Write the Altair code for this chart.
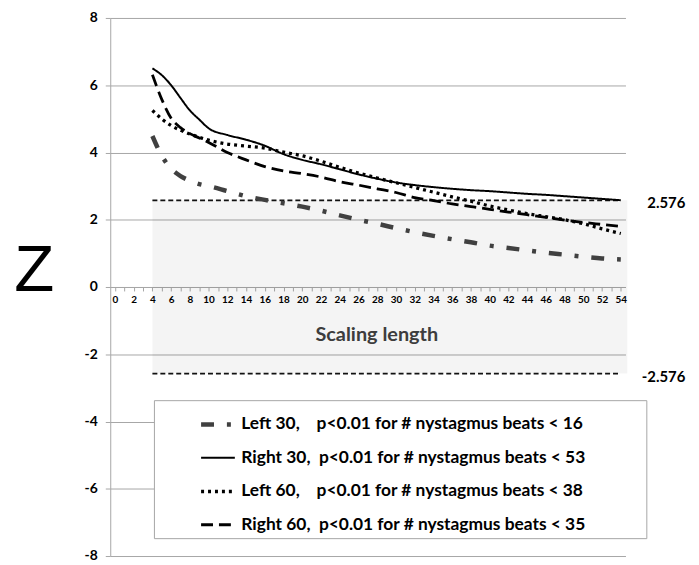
import altair as alt
import pandas as pd

# ---- data ----
x_vals = [4, 5, 6, 7, 8, 9, 10, 12, 14, 16, 18, 20, 22, 24, 26, 28, 30, 32, 34,
          36, 38, 40, 42, 44, 46, 48, 50, 52, 54]
left30 = [4.49, 3.9, 3.52, 3.3, 3.16, 3.06, 3.0, 2.85, 2.7, 2.59, 2.49, 2.39, 2.27,
          2.13, 2.0, 1.88, 1.75, 1.63, 1.52, 1.42, 1.33, 1.23, 1.16, 1.09, 1.02,
          0.96, 0.9, 0.85, 0.82]
right30 = [6.5, 6.3, 6.0, 5.62, 5.25, 4.98, 4.72, 4.52, 4.38, 4.2, 3.95, 3.78, 3.65,
           3.5, 3.35, 3.22, 3.11, 3.03, 2.97, 2.92, 2.88, 2.85, 2.81, 2.77, 2.74,
           2.7, 2.66, 2.62, 2.58]
left60 = [5.25, 5.0, 4.8, 4.66, 4.55, 4.45, 4.37, 4.25, 4.19, 4.13, 4.01, 3.9, 3.74,
          3.56, 3.39, 3.24, 3.1, 2.96, 2.82, 2.68, 2.55, 2.41, 2.29, 2.18, 2.09,
          2.0, 1.88, 1.73, 1.59]
right60 = [6.31, 5.58, 5.02, 4.74, 4.56, 4.43, 4.3, 4.0, 3.78, 3.58, 3.45, 3.37, 3.27,
           3.13, 3.03, 2.92, 2.81, 2.66, 2.57, 2.47, 2.39, 2.31, 2.23, 2.15, 2.07,
           1.99, 1.92, 1.86, 1.8]

NB = "\u00a0"
series_names = [
    "Left 30," + NB * 4 + "p<0.01 for # nystagmus beats < 16",
    "Right 30," + NB * 2 + "p<0.01 for # nystagmus beats < 53",
    "Left 60," + NB * 4 + "p<0.01 for # nystagmus beats < 38",
    "Right 60," + NB * 2 + "p<0.01 for # nystagmus beats < 35",
]
series_values = [left30, right30, left60, right60]

thresholds = [2.576, -2.576]
band_x = [4, 54.7]
line_x = [4, 54]

x_ticks = list(range(0, 55))
y_ticks = list(range(-8, 9, 2))

rows = []
for name, vals in zip(series_names, series_values):
    for xv, zv in zip(x_vals, vals):
        rows.append({"series": name, "x": xv, "z": zv})
df = pd.DataFrame(rows)

band_df = pd.DataFrame({"x0": [band_x[0]], "x1": [band_x[1]],
                        "lo": [thresholds[1]], "hi": [thresholds[0]]})
thr_df = pd.DataFrame({"t": thresholds,
                       "lab": [f"{t:.3f}" for t in thresholds],
                       "xa": [line_x[0]] * 2, "xb": [line_x[1]] * 2})

GRAY = "#a6a6a6"
xscale = alt.Scale(domain=[-0.5, 54.5], nice=False, zero=False)
yscale = alt.Scale(domain=[-8, 8], nice=False, zero=False)

xaxis = alt.Axis(values=x_ticks,
                 labelExpr="datum.value % 2 == 0 ? '' + datum.value : ''",
                 offset=-271, title="Scaling length")
yaxis = alt.Axis(values=y_ticks, labelExpr="'' + datum.value", title="Z",
                 titleFontSize=66)

band = alt.Chart(band_df).mark_rect(color="#000", opacity=0.045).encode(
    x=alt.X("x0:Q", scale=xscale, axis=xaxis),
    x2="x1:Q",
    y=alt.Y("lo:Q", scale=yscale, axis=yaxis),
    y2="hi:Q",
)

rules = alt.Chart(thr_df).mark_rule(color="#111", strokeWidth=2, strokeDash=[5, 3]).encode(
    x=alt.X("xa:Q", scale=xscale, axis=xaxis),
    x2="xb:Q",
    y=alt.Y("t:Q", scale=yscale, axis=yaxis),
)

# trailing non-breaking spaces (kept by a zero-width space) widen the legend frame
PAD = NB * 13 + "\u200b"
legend = alt.Legend(
    title=None, orient="none", legendX=44, legendY=385,
    fillColor="#ffffff", strokeColor=GRAY, padding=5,
    symbolType="stroke", symbolSize=1156, symbolOffset=40,
    labelFontSize=17.5, labelFontWeight="bold", labelColor="#000",
    labelOffset=4, rowPadding=6, labelLimit=2000,
    labelExpr="datum.label + '" + PAD + "'",
)

lines = alt.Chart(df).mark_line(interpolate="monotone", strokeCap="butt").encode(
    x=alt.X("x:Q", scale=xscale, axis=xaxis),
    y=alt.Y("z:Q", scale=yscale, axis=yaxis),
    color=alt.Color("series:N", sort=series_names, legend=legend,
                    scale=alt.Scale(domain=series_names,
                                    range=["#404040", "#000000", "#000000", "#000000"])),
    strokeDash=alt.StrokeDash("series:N", sort=series_names, legend=legend,
                              scale=alt.Scale(domain=series_names,
                                              range=[[13, 13, 4, 13], [1, 0], [3, 4], [12, 6]])),
    strokeWidth=alt.StrokeWidth("series:N", sort=series_names, legend=legend,
                                scale=alt.Scale(type="ordinal", domain=series_names,
                                                range=[4.5, 2, 3.3, 2.8])),
    detail="series:N",
)

labels = alt.Chart(thr_df).mark_text(align="right", baseline="middle", dx=65, dy=3,
                                     fontSize=15, fontWeight="bold", color="#000").encode(
    x=alt.XDatum(54, scale=xscale, axis=xaxis),
    y=alt.Y("t:Q", scale=yscale, axis=yaxis),
    text="lab:N",
)

chart = alt.layer(band, rules, lines, labels).properties(
    width=519, height=542,
    padding={"left": 5, "top": 1, "right": 5, "bottom": 0},
).configure(font="Lato").configure_view(stroke=None).configure_axisX(
    grid=False, tickSize=4, tickColor=GRAY, domainColor=GRAY,
    labelFontSize=10, labelFontWeight="bold", labelColor="#000",
    labelPadding=4, labelOverlap=False, labelFlush=False, labelBound=False,
    titleFontSize=20, titleFontWeight="bold", titleColor="#404040",
    titleX=268, titleY=48, titleBaseline="middle", titleAlign="center",
).configure_axisY(
    grid=True, gridColor=GRAY, tickColor=GRAY, domainColor=GRAY,
    tickSize=5, labelFontSize=14, labelFontWeight="bold", labelColor="#000",
    labelPadding=8,
    titleAngle=0, titleFontSize=66, titleFontWeight="normal",
    titleFont="Liberation Sans", titleColor="#000", titleX=-77, titleY=275,
    titleAlign="center", titleBaseline="alphabetic",
)

chart.save("out.html", embed_options={"renderer": "svg", "actions": False})
